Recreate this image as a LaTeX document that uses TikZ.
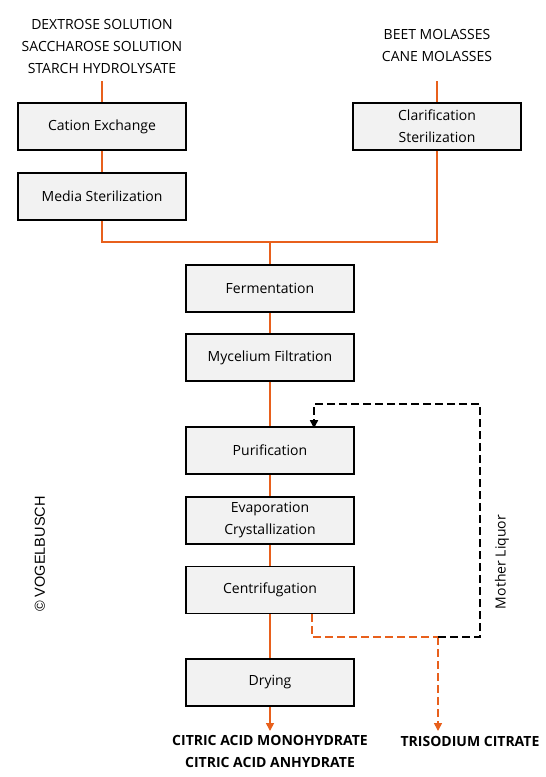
\documentclass[tikz,border=0pt]{standalone}
\usepackage{fontspec}
\setmainfont{Open Sans}
\newfontfamily\copyfont{Liberation Sans}
\usetikzlibrary{arrows.meta,positioning,calc}
\definecolor{vborange}{HTML}{E8601C}
\definecolor{vbfill}{HTML}{F2F2F2}

\begin{document}
\begin{tikzpicture}[x=1pt,y=-1pt,
    proc/.style={draw=black, line width=1.6pt, fill=vbfill, minimum width=168pt,
        minimum height=47pt, inner sep=0pt, align=center, font=\fontsize{14}{22}\selectfont},
    label/.style={align=center, inner sep=0pt, font=\fontsize{14}{22}\selectfont},
    product/.style={align=center, inner sep=0pt, font=\bfseries\fontsize{14}{22}\selectfont},
    flow/.style={draw=vborange, line width=1.6pt},
    tip/.style={-{Triangle[width=8pt,length=8pt]}},
    dashflow/.style={line width=1.6pt, dash pattern=on 8pt off 4pt}]
    \useasboundingbox (0,0) rectangle (546,777);
    %\draw[step=20,help lines] (0,0) grid (546,777);

    % raw materials
    \node[label] (sugars) at (102,46) {DEXTROSE SOLUTION\\SACCHAROSE SOLUTION\\STARCH HYDROLYSATE};
    \node[label] (molasses) at (437,45) {BEET MOLASSES\\CANE MOLASSES};
    \coordinate (sugarsin) at (102,81);
    \coordinate (molassesin) at (437,81);

    \node[proc] (cation) at (102,126.5) {Cation Exchange};
    \node[proc] (media) at (102,196.5) {Media Sterilization};
    \node[proc] (clar) at (437,126.5) {Clarification\\Sterilization};
    \coordinate (join) at (270,242);

    % main line
    \node[proc] (ferm) at (270,288.5) {Fermentation};
    \node[proc] (myc) at (270,357.5) {Mycelium Filtration};
    \node[proc] (puri) at (270,450.5) {Purification};
    \node[proc] (evap) at (270,520.5) {Evaporation\\Crystallization};
    \node[proc] (centri) at (270,590) {Centrifugation};
    \node[proc] (dry) at (270,682.5) {Drying};

    % products
    \node[product] (citric) at (270,751) {CITRIC ACID MONOHYDRATE\\CITRIC ACID ANHYDRATE};
    \node[product] (tsc) at (470,741) {TRISODIUM CITRATE};
    \coordinate (citricin) at (270,731);
    \coordinate (tscin) at (438,731);
    \coordinate (ml) at (438,637);

    \node[label, rotate=90] (liquor) at (502,562) {Mother Liquor};
    \node[inner sep=0pt, rotate=90, font=\copyfont\fontsize{14.5}{16}\selectfont] (copy) at (40,554) {\textcopyright\ VOGELBUSCH};

    \draw[flow] (sugarsin) -- (cation);
    \draw[flow] (cation) -- (media);
    \draw[flow] (molassesin) -- (clar);
    \draw[flow] (media.south) |- (join);
    \draw[flow] (clar.south) |- (join);
    \draw[flow] (join) -- (ferm);
    \draw[flow] (ferm) -- (myc);
    \draw[flow] (myc) -- (puri);
    \draw[flow] (puri) -- (evap);
    \draw[flow] (evap) -- (centri);
    \draw[flow] (centri) -- (dry);
    \draw[flow, tip, vborange] (dry) -- (citricin);

    % mother liquor recycle
    \draw[dashflow, vborange] ([xshift=42pt]centri.south) |- (ml);
    \draw[dashflow, vborange, tip] (ml) -- (tscin);
    \draw[dashflow, tip] (ml) -| (480,404) -| ([xshift=44pt,yshift=-2pt]puri.north);

\end{tikzpicture}
\end{document}
